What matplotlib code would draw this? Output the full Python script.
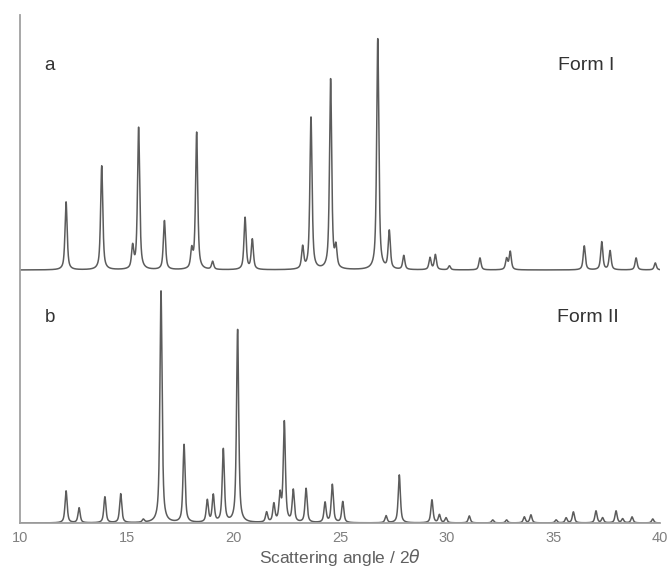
import numpy as np
import matplotlib
matplotlib.use("Agg")
import matplotlib.pyplot as plt

plt.rcParams['font.family'] = ['Liberation Sans', 'DejaVu Sans']

# peak positions (2theta, deg) and peak heights (arbitrary units)
form1_pos = [12.16, 13.83, 15.28, 15.56, 16.77, 18.05, 18.28, 19.03, 20.55, 20.89,
             23.25, 23.64, 24.56, 24.81, 26.77, 27.31, 27.99, 29.22, 29.47, 30.13,
             31.56, 32.81, 32.98, 36.45, 37.27, 37.66, 38.88, 39.78]
form1_int = [68, 104, 22, 142, 49, 18, 137, 8, 52, 30,
             22, 152, 190, 20, 231, 38, 14, 12, 15, 4,
             12, 11, 18, 24, 28, 19, 12, 7]

form2_pos = [12.16, 12.77, 13.98, 14.72, 15.78, 16.61, 17.69, 18.78, 19.06, 19.53,
             20.20, 21.56, 21.90, 22.19, 22.39, 22.81, 23.41, 24.30, 24.64, 25.13,
             27.16, 27.78, 29.31, 29.66, 29.97, 31.06, 32.16, 32.81, 33.64, 33.95,
             35.13, 35.60, 35.94, 37.00, 37.31, 37.94, 38.25, 38.69, 39.66]
form2_int = [32, 15, 26, 29, 3, 232, 78, 22, 27, 73,
             193, 10, 18, 26, 100, 32, 34, 20, 38, 21,
             7, 48, 23, 8, 5, 7, 3, 3, 6, 8,
             3, 5, 11, 12, 5, 12, 4, 6, 4]

offset_a = 253
xticks = [10, 15, 20, 25, 30, 35, 40]


def pattern(x, pos, inten, fwhm=0.12, eta=0.7):
    y = np.zeros_like(x)
    g = fwhm / 2
    s = fwhm / 2.3548
    for p, h in zip(pos, inten):
        lor = g**2 / ((x - p)**2 + g**2)
        gau = np.exp(-0.5 * ((x - p) / s)**2)
        y += h * (eta * lor + (1 - eta) * gau)
    return y


x = np.linspace(10, 40, 8000)
ya = pattern(x, form1_pos, form1_int) + offset_a
yb = pattern(x, form2_pos, form2_int)

fig = plt.figure(figsize=(6.72, 5.71), dpi=100)
ax = fig.add_axes([20/672, 48/571, 640/672, 508/571])

ax.plot(x, ya, color='#5c5c5c', lw=1.1)
ax.plot(x, yb, color='#5c5c5c', lw=1.1)

ax.set_xlim(10, 40)
ax.set_ylim(0, 508)
ax.set_xticks(xticks)
ax.set_yticks([])
ax.tick_params(axis='x', length=0, pad=6, labelsize=10.5, labelcolor='#808080')
for s in ['top', 'right']:
    ax.spines[s].set_visible(False)
for s in ['left', 'bottom']:
    ax.spines[s].set_color('#a0a0a0')
    ax.spines[s].set_linewidth(1.3)

ax.set_xlabel(r'Scattering angle / 2$\it{\theta}$', fontsize=12.5, color='#606060', labelpad=1)

ax.text(11.15, 458, 'a', fontsize=13.5, color='#333333', va='center')
ax.text(36.53, 458, 'Form I', fontsize=14, color='#333333', va='center', ha='center')
ax.text(11.15, 205, 'b', fontsize=13.5, color='#333333', va='center')
ax.text(36.63, 205, 'Form II', fontsize=14, color='#333333', va='center', ha='center')

fig.savefig('out.png', dpi=100)
